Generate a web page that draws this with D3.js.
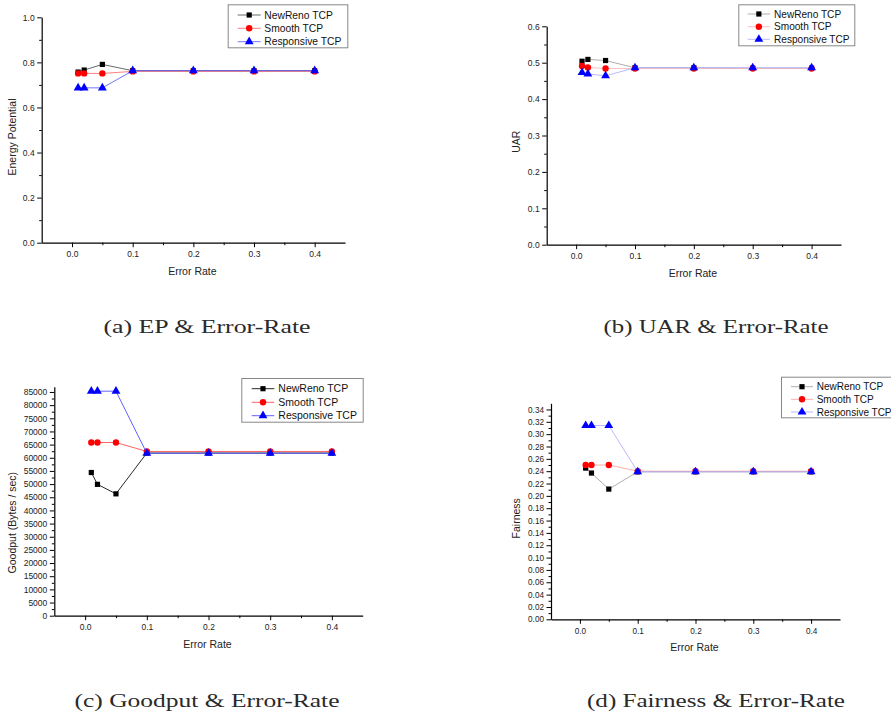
<!DOCTYPE html>
<html>
<head>
<meta charset="utf-8">
<script src="https://cdn.jsdelivr.net/npm/d3@7"></script>
<style>
  body { margin: 0; background: #fff; }
  text { font-family: "Liberation Sans", Arial, sans-serif; }
  .caption { font-family: "Liberation Serif", "DejaVu Serif", serif; }
</style>
</head>
<body>
<script>
// Error rates on the x axis (shared by all four panels)
const errorRates = [0.01, 0.02, 0.05, 0.1, 0.2, 0.3, 0.4];
const seriesNames = ["NewReno TCP", "Smooth TCP", "Responsive TCP"];
const xTickLabels = [0.0, 0.1, 0.2, 0.3, 0.4];

// (a) Energy potential
const epNewReno    = [0.757, 0.766, 0.791, 0.763, 0.763, 0.763, 0.763];
const epSmooth     = [0.751, 0.751, 0.751, 0.760, 0.760, 0.760, 0.760];
const epResponsive = [0.687, 0.687, 0.687, 0.763, 0.763, 0.763, 0.763];

// (b) UAR
const uarNewReno    = [0.504, 0.509, 0.506, 0.486, 0.486, 0.485, 0.485];
const uarSmooth     = [0.491, 0.487, 0.484, 0.484, 0.484, 0.484, 0.484];
const uarResponsive = [0.473, 0.469, 0.464, 0.486, 0.486, 0.486, 0.486];

// (c) Goodput (Bytes / sec)
const gpNewReno    = [54400, 49900, 46300, 61800, 61800, 61800, 61800];
const gpSmooth     = [65800, 65800, 65800, 62400, 62400, 62400, 62400];
const gpResponsive = [85300, 85300, 85300, 61700, 61700, 61700, 61700];

// (d) Fairness
const fNewReno    = [0.245, 0.237, 0.211, 0.239, 0.239, 0.239, 0.239];
const fSmooth     = [0.250, 0.250, 0.250, 0.240, 0.240, 0.240, 0.240];
const fResponsive = [0.314, 0.314, 0.314, 0.239, 0.239, 0.239, 0.239];

const svg = d3.select("body").append("svg")
    .attr("width", 891)
    .attr("height", 717);

const symbols = [d3.symbolSquare, d3.symbolCircle, d3.symbolTriangle];
const symbolSizes = [27, 32, 34];
const markerColors = ["#000", "#ff0000", "#0000ff"];

function drawPanel(p) {
  const x = d3.scaleLinear().domain([-0.05, 0.45]).range([p.left, p.right]);
  const y = d3.scaleLinear().domain(p.yDomain).range([p.bottom, p.top]);
  const g = svg.append("g");

  // minor ticks
  g.append("g")
      .attr("transform", `translate(0,${p.bottom})`)
      .call(d3.axisBottom(x).tickValues(d3.range(0.05, 0.45, 0.1)).tickSize(2.5).tickFormat(""))
      .call(a => a.select(".domain").remove());
  g.append("g")
      .attr("transform", `translate(${p.left},0)`)
      .call(d3.axisLeft(y).tickValues(p.yMinor).tickSize(2.5).tickFormat(""))
      .call(a => a.select(".domain").remove());

  // major axes
  const xAxis = g.append("g")
      .attr("transform", `translate(0,${p.bottom})`)
      .call(d3.axisBottom(x).tickValues(xTickLabels).tickSize(4.5).tickPadding(4)
        .tickFormat(d3.format(".1f")).tickSizeOuter(0));
  const yAxis = g.append("g")
      .attr("transform", `translate(${p.left},0)`)
      .call(d3.axisLeft(y).tickValues(p.yMajor).tickSize(4.5).tickPadding(2.5)
        .tickFormat(d3.format(p.yFormat)).tickSizeOuter(0));
  [xAxis, yAxis].forEach(a => {
    a.selectAll("text").attr("font-size", p.tickFont).attr("fill", "#222")
      .attr("font-family", "Liberation Sans, Arial, sans-serif");
    a.select(".domain").attr("stroke-width", 1.2);
    a.selectAll("line").attr("stroke-width", 1);
  });

  // axis titles
  g.append("text")
      .attr("x", (p.left + p.right) / 2 - 1)
      .attr("y", p.bottom + 32)
      .attr("text-anchor", "middle")
      .attr("font-size", 10.5)
      .attr("fill", "#222")
      .text("Error Rate");
  g.append("text")
      .attr("transform", `translate(${p.ylabelX},${p.ylabelY}) rotate(-90)`)
      .attr("text-anchor", "middle")
      .attr("font-size", 10.5)
      .attr("fill", "#222")
      .text(p.ylabel);

  // series
  const line = d3.line().x((d, i) => x(errorRates[i])).y(d => y(d));
  p.series.forEach((vals, k) => {
    g.append("path")
        .datum(vals)
        .attr("fill", "none")
        .attr("stroke", p.lineColors[k])
        .attr("stroke-width", p.lineWidth)
        .attr("d", line);
    g.selectAll(null)
      .data(vals)
      .enter().append("path")
        .attr("transform", (d, i) => `translate(${x(errorRates[i])},${y(d)})`)
        .attr("d", d3.symbol().type(symbols[k]).size(symbolSizes[k]))
        .attr("fill", markerColors[k]);
  });

  // legend
  const lg = g.append("g");
  lg.append("rect")
      .attr("x", p.legend.x0 + 0.5).attr("y", p.legend.y0 + 0.5)
      .attr("width", p.legend.x1 - p.legend.x0).attr("height", p.legend.y1 - p.legend.y0)
      .attr("fill", "#fff").attr("stroke", "#888").attr("stroke-width", 1);
  seriesNames.forEach((name, k) => {
    const ey = p.legend.rows[k];
    lg.append("line")
        .attr("x1", p.legend.lx0).attr("x2", p.legend.lx1)
        .attr("y1", ey).attr("y2", ey)
        .attr("stroke", p.lineColors[k]).attr("stroke-width", p.lineWidth);
    lg.append("path")
        .attr("transform", `translate(${(p.legend.lx0 + p.legend.lx1) / 2},${ey})`)
        .attr("d", d3.symbol().type(symbols[k]).size(symbolSizes[k]))
        .attr("fill", markerColors[k]);
    lg.append("text")
        .attr("x", p.legend.tx).attr("y", ey)
        .attr("dy", "0.36em")
        .attr("font-size", p.legendFont)
        .attr("fill", "#111")
        .text(name);
  });

  // caption
  svg.append("text")
      .attr("class", "caption")
      .attr("x", p.capX).attr("y", p.capY)
      .attr("text-anchor", "middle")
      .attr("font-size", 19)
      .attr("textLength", p.capW)
      .attr("lengthAdjust", "spacingAndGlyphs")
      .attr("fill", "#2a2a2a")
      .text(p.caption);
}

drawPanel({
  left: 41.7, right: 345, top: 17.3, bottom: 242.7,
  yDomain: [0, 1], yMajor: d3.range(0, 1.01, 0.2), yMinor: d3.range(0.1, 1, 0.2), yFormat: ".1f",
  tickFont: 8.5, ylabel: "Energy Potential", ylabelX: 15.5, ylabelY: 137,
  series: [epNewReno, epSmooth, epResponsive],
  lineColors: ["#444", "#ff6060", "#5050ff"], lineWidth: 0.8,
  legend: { x0: 227.7, x1: 347.3, y0: 4.3, y1: 47.3, rows: [15, 28.3, 41.7], lx0: 237.7, lx1: 260.7, tx: 264.3 },
  legendFont: 10.3,
  caption: "(a) EP & Error-Rate", capX: 207, capY: 333, capW: 207
});

drawPanel({
  left: 546.7, right: 841, top: 26.3, bottom: 244.7,
  yDomain: [0, 0.6], yMajor: d3.range(0, 0.61, 0.1), yMinor: d3.range(0.05, 0.6, 0.1), yFormat: ".1f",
  tickFont: 8.5, ylabel: "UAR", ylabelX: 520, ylabelY: 141.7,
  series: [uarNewReno, uarSmooth, uarResponsive],
  lineColors: ["#999", "#ffb0b0", "#a8a8ff"], lineWidth: 0.8,
  legend: { x0: 738.3, x1: 854.3, y0: 4.3, y1: 45.3, rows: [14, 26.7, 39.3], lx0: 747.7, lx1: 770, tx: 774 },
  legendFont: 10.1,
  caption: "(b) UAR & Error-Rate", capX: 716, capY: 333, capW: 225
});

drawPanel({
  left: 54.3, right: 362.7, top: 386.7, bottom: 615.7,
  yDomain: [0, 87000], yMajor: d3.range(0, 85001, 5000), yMinor: d3.range(2500, 87000, 5000), yFormat: "d",
  tickFont: 8.5, ylabel: "Goodput (Bytes / sec)", ylabelX: 15.5, ylabelY: 522.7,
  series: [gpNewReno, gpSmooth, gpResponsive],
  lineColors: ["#111", "#ff5050", "#5050ff"], lineWidth: 0.9,
  legend: { x0: 241.3, x1: 362.7, y0: 378, y1: 421.7, rows: [388.7, 402.3, 415.7], lx0: 251.7, lx1: 274.3, tx: 278.3 },
  legendFont: 10.5,
  caption: "(c) Goodput & Error-Rate", capX: 207, capY: 707, capW: 265
});

drawPanel({
  left: 551, right: 840, top: 403.3, bottom: 619.3,
  yDomain: [0, 0.35], yMajor: d3.range(0, 0.341, 0.02), yMinor: d3.range(0.01, 0.35, 0.02), yFormat: ".2f",
  tickFont: 8.2, ylabel: "Fairness", ylabelX: 520, ylabelY: 518.3,
  series: [fNewReno, fSmooth, fResponsive],
  lineColors: ["#999", "#ff9a9a", "#a8a8ff"], lineWidth: 0.8,
  legend: { x0: 781, x1: 892, y0: 376.7, y1: 417.3, rows: [386.7, 399.3, 412], lx0: 791, lx1: 813, tx: 816.7 },
  legendFont: 10,
  caption: "(d) Fairness & Error-Rate", capX: 716, capY: 707, capW: 258
});
</script>
</body>
</html>
